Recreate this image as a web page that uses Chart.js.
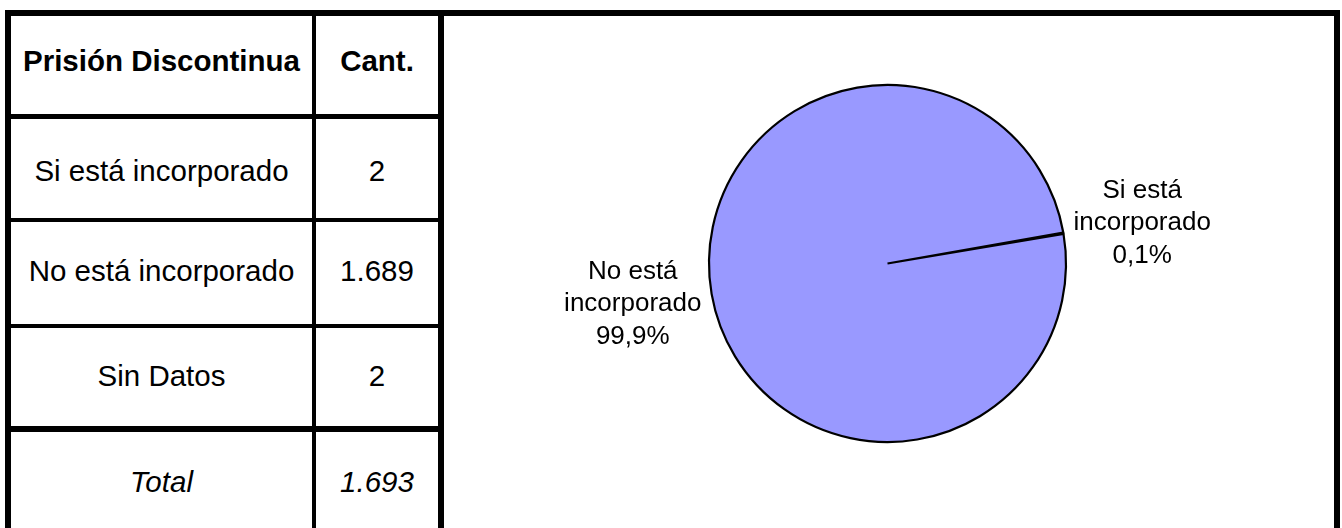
<!DOCTYPE html>
<html>
<head>
<meta charset="utf-8">
<script src="https://cdn.jsdelivr.net/npm/chart.js@4.4.1/dist/chart.umd.min.js"></script>
<style>
  html, body { margin: 0; padding: 0; background: #ffffff; }
  body { width: 1342px; height: 528px; position: relative; overflow: hidden;
         font-family: "Liberation Sans", Arial, sans-serif; color: #000; }
  .ln { position: absolute; background: #000; }
  .cell { position: absolute; height: 40px; line-height: 40px; text-align: center;
          font-size: 29.5px; white-space: nowrap; }
  #pie { position: absolute; left: 444px; top: 16px; }
</style>
</head>
<body>
<div id="table"></div>
<canvas id="pie" width="887" height="495"></canvas>
<script>
// ---- data ----
const headerLabels = ["Prisión Discontinua", "Cant."];
const rowLabels = ["Si está incorporado", "No está incorporado", "Sin Datos"];
const rowCounts = [2, 1689, 2];
const totalLabel = "Total";
const totalCount = 1693;
const pieCategories = ["Si está incorporado", "No está incorporado"];
const pieValues = [2, 1689];

// ---- table (layout) ----
const fmt = n => String(n).replace(/\B(?=(\d{3})+(?!\d))/g, ".");
const tbl = document.getElementById("table");
function line(l, t, w, h) {
  const d = document.createElement("div");
  d.className = "ln";
  d.style.cssText = `left:${l}px;top:${t}px;width:${w}px;height:${h}px`;
  tbl.appendChild(d);
}
function cell(text, cx, w, cy, extra) {
  const d = document.createElement("div");
  d.className = "cell";
  d.textContent = text;
  d.style.left = (cx - w / 2) + "px";
  d.style.width = w + "px";
  d.style.top = (cy - 20) + "px";
  if (extra) Object.assign(d.style, extra);
  tbl.appendChild(d);
}
line(5, 10, 1335, 6);      // top
line(5, 10, 6, 530);       // left
line(312, 10, 4, 530);     // column divider
line(438, 10, 6, 530);     // table right
line(1334, 10, 6, 530);    // right
line(5, 114, 439, 5);      // header sep
line(5, 218, 439, 4);
line(5, 324, 439, 4);
line(5, 426, 439, 6);      // total sep

const col1 = 161.5, col2 = 377;
const rowCenters = [171, 271, 376];
cell(headerLabels[0], col1, 300, 61, { fontWeight: "bold" });
cell(headerLabels[1], col2, 122, 61, { fontWeight: "bold" });
rowLabels.forEach((lab, i) => {
  cell(lab, col1, 300, rowCenters[i]);
  cell(fmt(rowCounts[i]), col2, 122, rowCenters[i]);
});
cell(totalLabel, col1, 300, 482, { fontStyle: "italic" });
cell(fmt(totalCount), col2, 122, 482, { fontStyle: "italic" });

// ---- pie ----
const labelPlugin = {
  id: "pieLabels",
  afterDatasetsDraw(chart) {
    const ctx = chart.ctx;
    const meta = chart.getDatasetMeta(0);
    const data = chart.data.datasets[0].data;
    const total = data.reduce((a, b) => a + b, 0);
    ctx.save();
    ctx.font = '26px "Liberation Sans", Arial, sans-serif';
    ctx.fillStyle = "#000";
    ctx.textAlign = "center";
    ctx.textBaseline = "middle";
    meta.data.forEach((arc, i) => {
      const p = arc.getProps(["x", "y", "startAngle", "endAngle", "outerRadius"], true);
      const mid = (p.startAngle + p.endAngle) / 2;
      const ax = p.x + Math.cos(mid) * (p.outerRadius + 80);
      const ay = p.y + Math.sin(mid) * (p.outerRadius + 60);
      const words = chart.data.labels[i].split(" ");
      const lines = [words.slice(0, 2).join(" "), words.slice(2).join(" "),
        (data[i] / total * 100).toFixed(1).replace(".", ",") + "%"];
      lines.forEach((t, k) => ctx.fillText(t, ax, ay + (k - 1) * 32.5));
    });
    ctx.restore();
  }
};

new Chart(document.getElementById("pie"), {
  type: "pie",
  data: {
    labels: pieCategories,
    datasets: [{
      data: pieValues,
      backgroundColor: ["#993366", "#9999FF"],
      borderColor: "#000000",
      borderWidth: 2.2,
      radius: 178.5
    }]
  },
  options: {
    responsive: false,
    animation: false,
    rotation: 80,
    layout: { padding: 0 },
    plugins: { legend: { display: false }, tooltip: { enabled: false } }
  },
  plugins: [labelPlugin]
});
</script>
</body>
</html>
